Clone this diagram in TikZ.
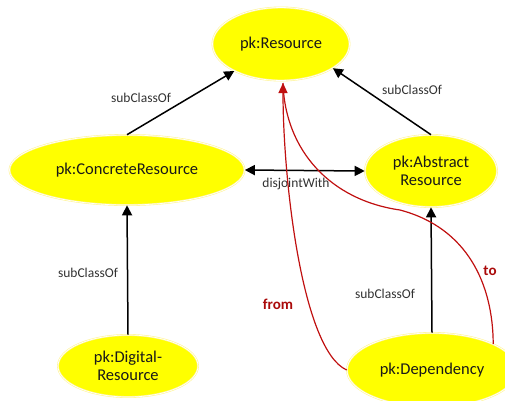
\documentclass[tikz,border=0pt]{standalone}
\usepackage{fontspec}
\setmainfont{Carlito}
\usetikzlibrary{shapes.geometric,arrows.meta}
\definecolor{nodeyellow}{RGB}{255,255,0}
\definecolor{rimyellow}{RGB}{255,245,150}
\definecolor{labelgray}{RGB}{50,50,50}
\definecolor{linkred}{RGB}{192,16,16}
\definecolor{wordred}{RGB}{170,10,10}
\tikzset{
  cls/.style={ellipse, fill=nodeyellow, draw=rimyellow, line width=0.6pt,
    double=white, double distance=0.7pt, inner sep=0pt,
    font=\fontsize{16.5}{18.5}\selectfont, text=black!90, align=center},
  rel/.style={draw=black, line width=1.5pt, -{Triangle[length=10pt,width=10pt]}},
  biRel/.style={draw=black, line width=1.5pt, {Triangle[length=10pt,width=10pt]}-{Triangle[length=10pt,width=10pt]}},
  relLabel/.style={font=\fontsize{13.5}{15}\selectfont, text=labelgray},
  redLink/.style={draw=linkred, line width=1.2pt},
  redWord/.style={font=\bfseries\fontsize{15}{17}\selectfont, text=wordred}
}
\begin{document}
\begin{tikzpicture}[x=1pt,y=-1pt]
\useasboundingbox (0,0) rectangle (505,400);

% class nodes
\node[cls, minimum width=137pt, minimum height=73pt] (res)  at (281,44)  {pk:Resource};
\node[cls, minimum width=235pt, minimum height=70pt] (conc) at (127,170) {pk:ConcreteResource};
\node[cls, minimum width=132pt, minimum height=72pt] (abst) at (431,171) {pk:Abstract\\Resource};
\node[cls, minimum width=140pt, minimum height=62pt] (dig)  at (128,366) {pk:Digital-\\Resource};
\node[cls, minimum width=170pt, minimum height=74pt] (dep)  at (432,370) {pk:Dependency};

% subclass and disjointness relations
\draw[rel] (conc.north) -- (res.210);
\draw[rel] (abst.north) -- (res.-25);
\draw[biRel] (conc.east) -- (abst.west);
\draw[rel] (dig.north) -- (conc.south);
\draw[rel] (dep.north) -- (abst.south);

\node[relLabel] (l1) at (141,98)  {subClassOf};
\node[relLabel] (l2) at (412,90)  {subClassOf};
\node[relLabel] (l3) at (296,184) {disjointWith};
\node[relLabel] (l4) at (88,273)  {subClassOf};
\node[relLabel] (l5) at (385,294) {subClassOf};

% dependency endpoints
\coordinate (tip) at (283,83);
\draw[redLink] (dep.23) .. controls (493,285) and (468,228) .. (400,210)
                        .. controls (330,200) and (285,150) .. (tip);
\draw[redLink, -{Triangle[length=10pt,width=9pt]}]
      (dep.west) .. controls (302,350) and (283,180) .. (tip);

\node[redWord] (from) at (278,304) {from};
\node[redWord] (to)   at (490,271) {to};
\end{tikzpicture}
\end{document}
